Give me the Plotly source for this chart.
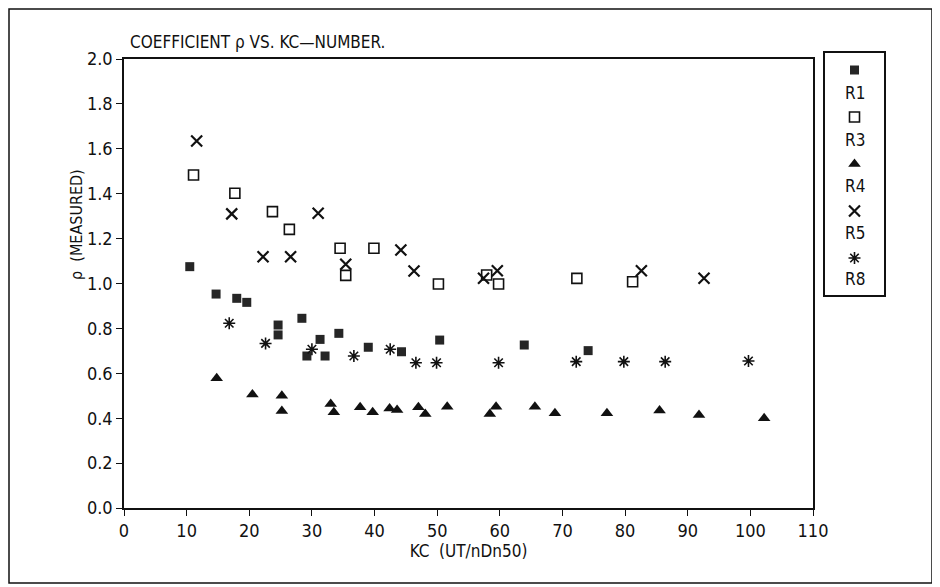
import plotly.graph_objects as go

# ---------------- data ----------------
r1_kc = [10.5, 14.7, 18.0, 19.6, 24.6, 24.6, 28.4, 29.2, 31.3, 32.1, 34.3, 39.0, 44.3, 50.4, 63.9, 74.1]
r1_p = [1.075, 0.953, 0.934, 0.916, 0.815, 0.771, 0.845, 0.677, 0.751, 0.677, 0.778, 0.716, 0.696, 0.748, 0.726, 0.701]

r3_kc = [11.1, 17.7, 23.7, 26.4, 34.5, 35.4, 39.9, 50.2, 57.9, 59.8, 72.3, 81.2]
r3_p = [1.483, 1.402, 1.320, 1.241, 1.157, 1.036, 1.157, 0.998, 1.038, 0.998, 1.023, 1.008]

r4_kc = [14.8, 20.5, 25.2, 25.2, 33.0, 33.5, 37.7, 39.7, 42.4, 43.6, 47.0, 48.1, 51.6,
         58.4, 59.4, 65.6, 68.8, 77.1, 85.5, 91.8, 102.2]
r4_p = [0.578, 0.506, 0.500, 0.432, 0.463, 0.426, 0.449, 0.426, 0.443, 0.437, 0.449, 0.419, 0.451,
        0.419, 0.451, 0.451, 0.422, 0.422, 0.434, 0.414, 0.400]

r5_kc = [11.6, 17.2, 22.2, 26.6, 31.0, 35.4, 44.2, 46.3, 57.4, 59.6, 82.6, 92.6]
r5_p = [1.635, 1.310, 1.119, 1.119, 1.313, 1.086, 1.149, 1.056, 1.023, 1.057, 1.057, 1.023]

r8_kc = [16.8, 22.6, 30.0, 36.7, 42.5, 46.6, 49.9, 59.8, 72.2, 79.8, 86.4, 99.7]
r8_p = [0.823, 0.733, 0.707, 0.677, 0.707, 0.647, 0.647, 0.647, 0.652, 0.652, 0.652, 0.655]

series_names = ["R1", "R3", "R4", "R5", "R8"]
x_ticks = list(range(0, 111, 10))
y_ticks = [round(0.2 * i, 1) for i in range(11)]

# ---------------- style ----------------
FONT = "Liberation Sans Narrow, DejaVu Sans Condensed, Arial Narrow, sans-serif"
INK = "#111111"
styles = {
    "R1": dict(symbol="square", size=9, color="#262626", line=dict(width=0)),
    "R3": dict(symbol="square-open", size=10, color=INK, line=dict(width=1.6, color=INK)),
    "R4": dict(symbol="triangle-up", size=11, color=INK, line=dict(width=0)),
    "R5": dict(symbol="x-thin-open", size=11, color=INK, line=dict(width=2.2, color=INK)),
    "R8": dict(symbol="asterisk-open", size=10, color=INK, line=dict(width=1.6, color=INK)),
}
data = {"R1": (r1_kc, r1_p), "R3": (r3_kc, r3_p), "R4": (r4_kc, r4_p),
        "R5": (r5_kc, r5_p), "R8": (r8_kc, r8_p)}

# the page body adds an 8 px offset; size the figure to fit inside the window
OFF = 8
W, H = 940 - OFF, 587 - OFF
ml, mr, mt, mb = 1, 8, 1, 4
pw, ph = W - ml - mr, H - mt - mb


def px_x(p):
    """screen pixel x -> paper fraction"""
    return (p - OFF - ml) / pw


def px_y(p):
    """screen pixel y -> paper fraction"""
    return (H - mb - (p - OFF)) / ph


fig = go.Figure()
for name in series_names:
    xs, ys = data[name]
    fig.add_trace(go.Scatter(x=xs, y=ys, mode="markers", name=name,
                             marker=styles[name], showlegend=False,
                             xaxis="x", yaxis="y"))

# custom legend (symbol above label), drawn in its own small axes
for i, name in enumerate(series_names):
    fig.add_trace(go.Scatter(x=[0.5], y=[17 + 47 * i], mode="markers",
                             marker=styles[name], showlegend=False,
                             xaxis="x2", yaxis="y2", hoverinfo="skip"))
    fig.add_annotation(x=0.5, y=40 + 46.5 * i, xref="x2", yref="y2", text=name,
                       showarrow=False, font=dict(family=FONT, size=17, color=INK))

axis_common = dict(showgrid=False, zeroline=False, showline=True, linecolor=INK,
                   linewidth=1.5, ticks="outside", ticklen=6, tickwidth=1.2,
                   tickcolor=INK, mirror=True, automargin=False,
                   tickfont=dict(family=FONT, size=18, color=INK))

fig.update_layout(
    width=W, height=H,
    margin=dict(l=ml, r=mr, t=mt, b=mb, autoexpand=False),
    paper_bgcolor="white", plot_bgcolor="white",
    xaxis=dict(axis_common, range=[0, 110], tickvals=x_ticks,
               domain=[px_x(124), px_x(813)], anchor="y",
               title=dict(text="KC  (UT/nDn50)", standoff=2,
                          font=dict(family=FONT, size=17, color=INK))),
    yaxis=dict(axis_common, range=[0, 2.0], tickvals=y_ticks, tickformat=".1f",
               domain=[px_y(508), px_y(59)], anchor="x"),
    xaxis2=dict(domain=[px_x(825), px_x(884)], range=[0, 1], anchor="y2",
                showgrid=False, zeroline=False, showticklabels=False, ticks="",
                automargin=False,
                showline=True, mirror=True, linecolor=INK, linewidth=1.5),
    yaxis2=dict(domain=[px_y(295), px_y(53)], range=[242, 0], anchor="x2",
                showgrid=False, zeroline=False, showticklabels=False, ticks="",
                automargin=False,
                showline=True, mirror=True, linecolor=INK, linewidth=1.5),
    shapes=[dict(type="rect", xref="paper", yref="paper", x0=0, x1=1, y0=0, y1=1,
                 line=dict(color=INK, width=1.5))],
)

fig.add_annotation(x=px_x(128), y=px_y(42), xref="paper", yref="paper",
                   xanchor="left", yanchor="middle", showarrow=False,
                   text="COEFFICIENT \u03c1 VS. KC\u2014NUMBER.",
                   font=dict(family=FONT, size=17, color=INK))
fig.add_annotation(x=px_x(76), y=px_y(225), xref="paper", yref="paper",
                   xanchor="center", yanchor="middle", showarrow=False,
                   textangle=-90, text="\u03c1  (MEASURED)",
                   font=dict(family=FONT, size=16, color=INK))

fig.write_html("out.html")
